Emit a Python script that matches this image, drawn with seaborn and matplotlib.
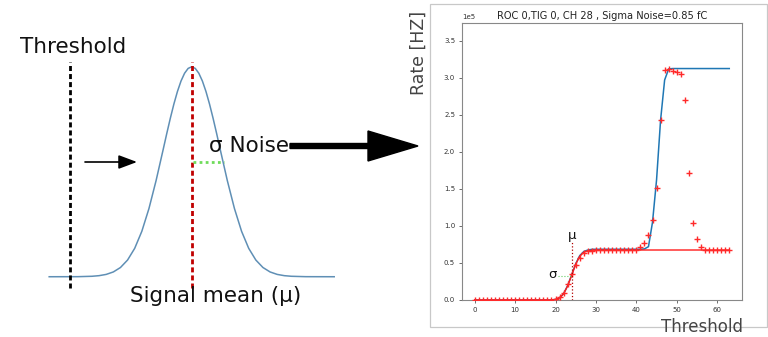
import numpy as np
import pandas as pd
import matplotlib
matplotlib.use("Agg")
import matplotlib.pyplot as plt
import matplotlib.transforms as mtrans
from matplotlib.patches import FancyArrow, Rectangle
from matplotlib.ticker import MultipleLocator
import seaborn as sns

# ---------------- left schematic (units of noise sigma / peak height) ----------------
gauss_x = [-5.0, -4.0, -3.5, -3.25, -3.0, -2.75, -2.5, -2.25, -2.0, -1.75, -1.5, -1.25,
           -1.0, -0.875, -0.75, -0.625, -0.5, -0.375, -0.25, -0.125, 0.0,
           0.125, 0.25, 0.375, 0.5, 0.625, 0.75, 0.875, 1.0,
           1.25, 1.5, 1.75, 2.0, 2.25, 2.5, 2.75, 3.0, 3.25, 3.5, 4.0, 5.0]
gauss_y = [0.0, 0.0003, 0.0022, 0.0051, 0.0111, 0.0228, 0.0439, 0.0796, 0.1353, 0.2163, 0.3247, 0.4578,
           0.6065, 0.682, 0.7548, 0.8226, 0.8825, 0.9321, 0.9692, 0.9922, 1.0,
           0.9922, 0.9692, 0.9321, 0.8825, 0.8226, 0.7548, 0.682, 0.6065,
           0.4578, 0.3247, 0.2163, 0.1353, 0.0796, 0.0439, 0.0228, 0.0111, 0.0051, 0.0022, 0.0003, 0.0]
threshold_pos = -4.27
signal_mean = 0.0
sigma_end = 1.13
sigma_level = 0.548

# ---------------- right chart data (rate in units of 1e5 Hz) ----------------
thresholds = list(range(64))
rate_meas = ([0.0] * 20 +
             [0.01, 0.04, 0.10, 0.21, 0.35, 0.47, 0.57, 0.63, 0.655, 0.665,
              0.67, 0.67, 0.67, 0.67, 0.67, 0.67, 0.67, 0.67, 0.675, 0.675, 0.68,
              0.71, 0.77, 0.88, 1.08, 1.51, 2.43, 3.11, 3.12, 3.09, 3.08, 3.05,
              2.70, 1.72, 1.04, 0.82, 0.72, 0.68] +
             [0.67] * 6)
fit_total = ([0.0] * 20 +
             [0.008, 0.03, 0.085, 0.195, 0.34, 0.49, 0.60, 0.655, 0.675, 0.684] +
             [0.685] * 12 +
             [0.69, 0.72, 1.05, 1.62, 2.43, 2.97, 3.12] +
             [3.125] * 15)
fit_erf = ([0.0] * 20 +
           [0.008, 0.03, 0.085, 0.19, 0.335, 0.485, 0.59, 0.645, 0.665, 0.672] +
           [0.675] * 34)
mu_fit = 24.0
mu_line_top = 0.78
sigma_line = (20.6, 23.8, 0.32)
title_text = "ROC 0,TIG 0, CH 28 , Sigma Noise=0.85 fC"

W, H = 768, 337
fig = plt.figure(figsize=(W / 100, H / 100), dpi=100)
fig.patch.set_facecolor("white")
pix = mtrans.Affine2D().scale(1 / W, -1 / H).translate(0, 1) + fig.transFigure

# ---------------- left schematic ----------------
ax_l = fig.add_axes([0, 0, 430 / W, 1])
ax_l.set_axis_off()
ax_l.set_xlim(-6.726, 8.361)
ax_l.set_ylim(-0.287, 1.318)
gdf = pd.DataFrame({"x": gauss_x, "y": gauss_y})
sns.lineplot(data=gdf, x="x", y="y", ax=ax_l, color="#5f8fb5", lw=1.1, sort=True, zorder=2)
ax_l.vlines(threshold_pos, -0.054, 1.024, color="black", linestyles=(0, (1.8, 1.1)), lw=2.0, zorder=3)
ax_l.vlines(signal_mean, -0.054, 1.024, color="#c00000", linestyles=(0, (1.8, 1.1)), lw=2.0, zorder=3)
ax_l.hlines(sigma_level, signal_mean + 0.05, sigma_end, color="#6fdc5a", linestyles=(0, (1, 1.2)), lw=2.0, zorder=3)

fig.text(20, 53, "Threshold", transform=pix, fontsize=15.5, ha="left", va="baseline", color="#111111")
fig.text(209, 151.5, "σ Noise", transform=pix, fontsize=15.5, ha="left", va="baseline", color="#111111")
fig.text(130, 302.5, "Signal mean (μ)", transform=pix, fontsize=15.5, ha="left", va="baseline", color="#111111")

ax_l.annotate("", xy=(137, 162), xytext=(85, 162), xycoords=pix, textcoords=pix,
              arrowprops=dict(arrowstyle="-|>,head_length=0.8,head_width=0.3", color="black",
                              lw=1.2, mutation_scale=14, shrinkA=0, shrinkB=0))
big_arrow = FancyArrow(290, 146, 128, 0, width=5, head_width=30, head_length=50,
                       length_includes_head=True, transform=pix, color="black", zorder=5)
fig.add_artist(big_arrow)

# ---------------- right screenshot frame ----------------
frame = Rectangle((430, 4), 337, 323, transform=pix, fill=False, ec="#c8c8c8", lw=0.9)
fig.add_artist(frame)

ax = fig.add_axes([462 / W, 1 - 300 / H, 280 / W, 277.3 / H])
df = pd.DataFrame({
    "thr": thresholds,
    "rate": np.array(rate_meas) * 1e5,
    "fit_total": np.array(fit_total) * 1e5,
    "fit_erf": np.array(fit_erf) * 1e5,
})
sns.lineplot(data=df, x="thr", y="fit_total", ax=ax, color="#1f77b4", lw=1.1, zorder=2)
sns.lineplot(data=df, x="thr", y="fit_erf", ax=ax, color="#ff1a1a", lw=1.0, zorder=3)
sns.scatterplot(data=df, x="thr", y="rate", ax=ax, marker="+", color="#ff2a2a", s=24, linewidth=1.0, zorder=4)

ax.vlines(mu_fit, 0, mu_line_top * 1e5, color="#b00000", linestyles=":", lw=0.9, zorder=5)
ax.hlines(sigma_line[2] * 1e5, sigma_line[0], sigma_line[1], color="#66cc66", linestyles=":", lw=0.8, zorder=5)
ax.text(mu_fit, 0.83e5, "μ", fontsize=9.5, ha="center", va="baseline", color="#111111")
ax.text(19.3, 0.30e5, "σ", fontsize=9.5, ha="center", va="baseline", color="#111111")

ax.set_xlim(-3.15, 66.15)
ax.set_ylim(0, 3.744e5)
ax.xaxis.set_major_locator(MultipleLocator(10))
ax.yaxis.set_major_locator(MultipleLocator(0.5e5))
ax.ticklabel_format(axis="y", style="sci", scilimits=(0, 0))
ax.yaxis.get_offset_text().set_fontsize(5)
ax.yaxis.get_offset_text().set_color("#333333")
ax.tick_params(labelsize=5, length=2.5, width=0.6, colors="#555555", labelcolor="#333333", pad=2.5)
for s in ax.spines.values():
    s.set_color("#888888")
    s.set_linewidth(0.8)
ax.set_xlabel("")
ax.set_ylabel("")
ax.set_title(title_text, fontsize=7.1, pad=2.7, color="#222222")

fig.text(419, 52.5, "Rate [HZ]", transform=pix, fontsize=12.5, rotation=90,
         ha="center", va="center", color="#444444")
fig.text(743, 336, "Threshold", transform=pix, fontsize=12, ha="right", va="bottom", color="#444444")

fig.savefig("out.png", dpi=100)
